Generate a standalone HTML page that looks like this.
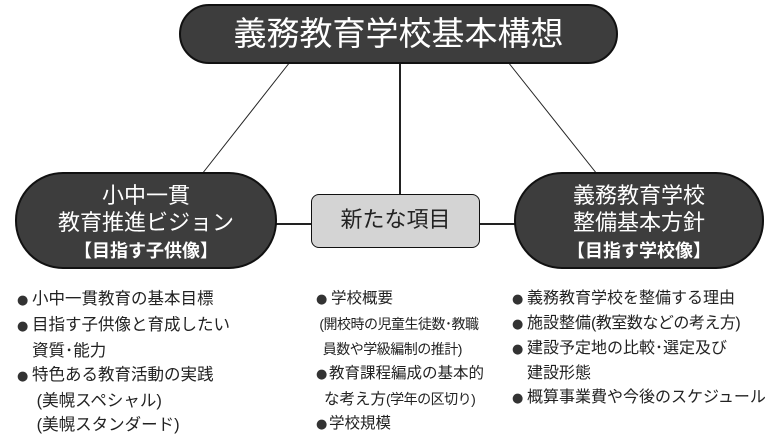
<!DOCTYPE html>
<html><head><meta charset="utf-8"><style>
body{margin:0;width:776px;height:442px;background:#fff;position:relative;overflow:hidden;font-family:"Liberation Sans","Noto Sans CJK JP",sans-serif;}
.p{position:absolute;background:#3d3d3d;border:2px solid #111;color:#fff;text-align:center;box-sizing:border-box;}
.t{position:absolute;white-space:nowrap;font-size:16.5px;color:#222;line-height:24px;}
.b{display:inline-block;width:15px;font-size:13px;color:#333;font-family:"DejaVu Sans",sans-serif;}
.i{display:inline-block;width:15px;}
</style></head><body>
<svg width="776" height="442" style="position:absolute;left:0;top:0">
<line x1="290" y1="62" x2="202" y2="174" stroke="#222" stroke-width="1"/>
<line x1="400" y1="62" x2="400" y2="196" stroke="#222" stroke-width="2"/>
<line x1="508" y1="62" x2="597" y2="174" stroke="#222" stroke-width="1"/>
<line x1="275" y1="224" x2="312" y2="224" stroke="#222" stroke-width="2"/>
<line x1="478" y1="224" x2="515" y2="224" stroke="#222" stroke-width="2"/>
</svg>
<div class="p" style="left:179px;top:4px;width:439px;height:60px;border-radius:30px;font-size:33px;line-height:56px;">義務教育学校基本構想</div>
<div class="p" style="left:15px;top:172px;width:262px;height:97px;border-radius:48px;font-size:22px;line-height:27px;padding-top:8px;">小中一貫<br>教育推進ビジョン<br><span style="font-size:18px;font-weight:bold">【目指す子供像】</span></div>
<div class="p" style="left:514px;top:172px;width:250px;height:97px;border-radius:48px;font-size:22px;line-height:27px;padding-top:8px;">義務教育学校<br>整備基本方針<br><span style="font-size:18px;font-weight:bold">【目指す学校像】</span></div>
<div class="p" style="left:311px;top:194px;width:169px;height:54px;border-radius:8px;background:#d4d4d4;color:#222;font-size:22px;line-height:50px;border-width:1.5px;">新たな項目</div>
<div class="t" style="left:17px;top:287px;"><span class="b">●</span>小中一貫教育の基本目標<br><span class="b">●</span>目指す子供像と育成したい<br><span class="i"></span>資質･能力<br><span class="b">●</span>特色ある教育活動の実践<br><span class="i"></span>&nbsp;(美幌スペシャル)<br><span class="i"></span>&nbsp;(美幌スタンダード)</div>
<div class="t" style="left:316px;top:287px;font-size:15.5px;"><span class="b">●</span>学校概要<br><span style="font-size:14px;letter-spacing:-0.5px">&nbsp;(開校時の児童生徒数･教職</span><br><span style="font-size:14px;letter-spacing:-0.5px">&nbsp;&nbsp;員数や学級編制の推計)</span><br><span class="b" style="width:13px">●</span>教育課程編成の基本的<br><span class="i" style="width:8px"></span>な考え方<span style="font-size:14px;letter-spacing:-0.5px">(学年の区切り)</span><br><span class="b" style="width:13px">●</span>学校規模</div>
<div class="t" style="left:512px;top:287px;font-size:16px;"><span class="b">●</span>義務教育学校を整備する理由<br><span class="b">●</span>施設整備<span style="letter-spacing:-0.5px">(教室数などの考え方)</span><br><span class="b">●</span>建設予定地の比較･選定及び<br><span class="i"></span>建設形態<br><span class="b">●</span>概算事業費や今後のスケジュール</div>
</body></html>
